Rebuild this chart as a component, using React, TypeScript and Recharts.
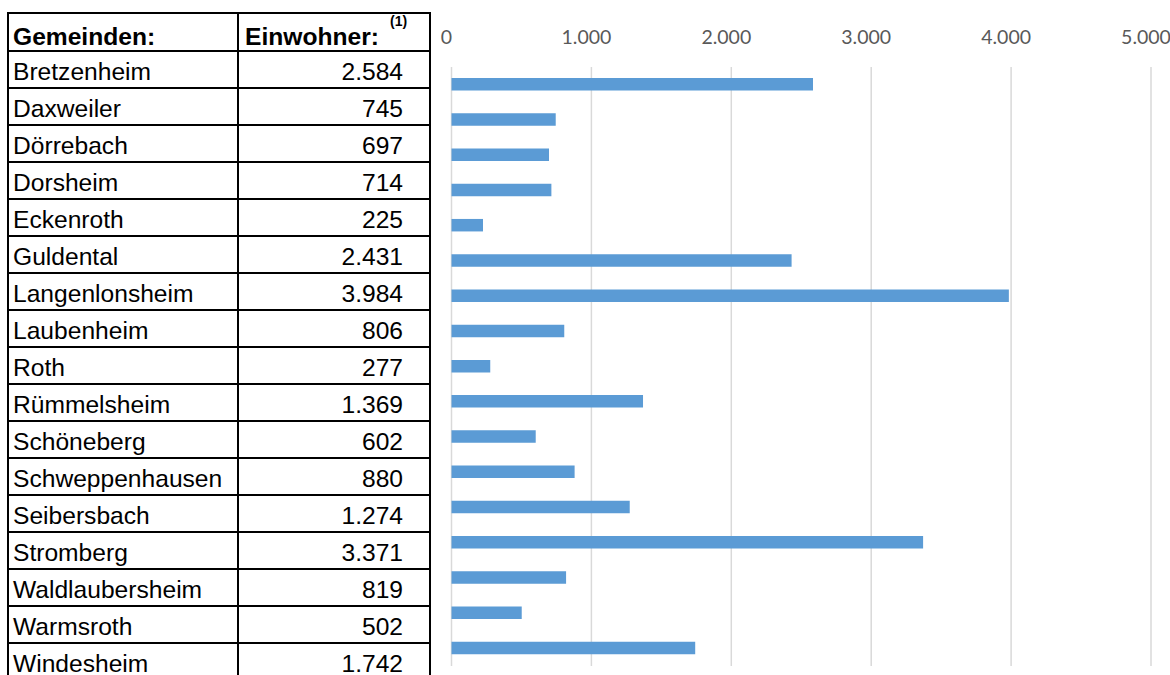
import React from 'react';
import { BarChart, Bar, XAxis, YAxis, CartesianGrid } from 'recharts';

const communities = [
  'Bretzenheim', 'Daxweiler', 'Dörrebach', 'Dorsheim', 'Eckenroth', 'Guldental',
  'Langenlonsheim', 'Laubenheim', 'Roth', 'Rümmelsheim', 'Schöneberg',
  'Schweppenhausen', 'Seibersbach', 'Stromberg', 'Waldlaubersheim', 'Warmsroth', 'Windesheim',
];
const populations = [2584, 745, 697, 714, 225, 2431, 3984, 806, 277, 1369, 602, 880, 1274, 3371, 819, 502, 1742];
const axisTicks = [0, 1000, 2000, 3000, 4000, 5000];
const headerName = 'Gemeinden:';
const headerValue = 'Einwohner:';
const headerNote = '(1)';

const fmt = (n: number) => String(n).replace(/\B(?=(\d{3})+(?!\d))/g, '.');

const data = communities.map((name, i) => ({ name, value: populations[i] }));

const AxisTick = (props: any) => {
  const { x, payload } = props;
  return (
    <text x={x - 5} y={44} textAnchor="middle" fill="#595959" fontFamily="Lato, 'Open Sans', sans-serif" fontSize={19.5}>
      {fmt(payload.value)}
    </text>
  );
};

const TABLE_FONT = "'Liberation Sans', Arial, sans-serif";
const ROW_TOP0 = 51;
const ROW_H = 37;
const FS = 24.6;

const Table = () => {
  const hLines = [13];
  for (let i = 0; i <= communities.length - 1; i++) hLines.push(ROW_TOP0 + i * ROW_H);
  return (
    <svg width={1170} height={675} style={{ position: 'absolute', left: 0, top: 0, pointerEvents: 'none' }}>
      {hLines.map((y, i) => (
        <line key={'h' + i} x1={7} x2={431} y1={y} y2={y} stroke="#000" strokeWidth={2} />
      ))}
      {[8, 238, 430].map((x, i) => (
        <line key={'v' + i} x1={x} x2={x} y1={12} y2={675} stroke="#000" strokeWidth={2} />
      ))}
      <text x={13} y={44.5} fontFamily={TABLE_FONT} fontSize={FS} fontWeight="bold" fill="#000">
        {headerName}
      </text>
      <text x={245} y={44.5} fontFamily={TABLE_FONT} fontSize={FS} fontWeight="bold" fill="#000">
        {headerValue}
      </text>
      <text x={390} y={26} fontFamily={TABLE_FONT} fontSize={14} fontWeight="bold" fill="#000">
        {headerNote}
      </text>
      {communities.map((name, i) => {
        const base = ROW_TOP0 + i * ROW_H + 28.5;
        return (
          <g key={name}>
            <text x={13} y={base} fontFamily={TABLE_FONT} fontSize={FS} fill="#000">
              {name}
            </text>
            <text x={403} y={base} textAnchor="end" fontFamily={TABLE_FONT} fontSize={FS} fill="#000">
              {fmt(populations[i])}
            </text>
          </g>
        );
      })}
    </svg>
  );
};

export default function App() {
  return (
    <div style={{ position: 'absolute', left: 0, top: 0, width: 1170, height: 675, overflow: 'hidden', background: '#fff' }}>
      <div style={{ position: 'absolute', left: 0, top: 0 }}>
        <BarChart
          width={1170}
          height={675}
          data={data}
          layout="vertical"
          margin={{ top: 37, right: 19, bottom: 9, left: 451.5 }}
          barCategoryGap={0}
        >
          <CartesianGrid horizontal={false} vertical={true} stroke="#d9d9d9" strokeWidth={1.5} />
          <XAxis
            type="number"
            orientation="top"
            domain={[0, 5000]}
            ticks={axisTicks}
            height={30}
            axisLine={false}
            tickLine={false}
            tick={<AxisTick />}
            interval={0}
          />
          <YAxis type="category" dataKey="name" hide width={0} />
          <Bar dataKey="value" fill="#5B9BD5" barSize={12.5} isAnimationActive={false} />
        </BarChart>
      </div>
      <Table />
    </div>
  );
}
